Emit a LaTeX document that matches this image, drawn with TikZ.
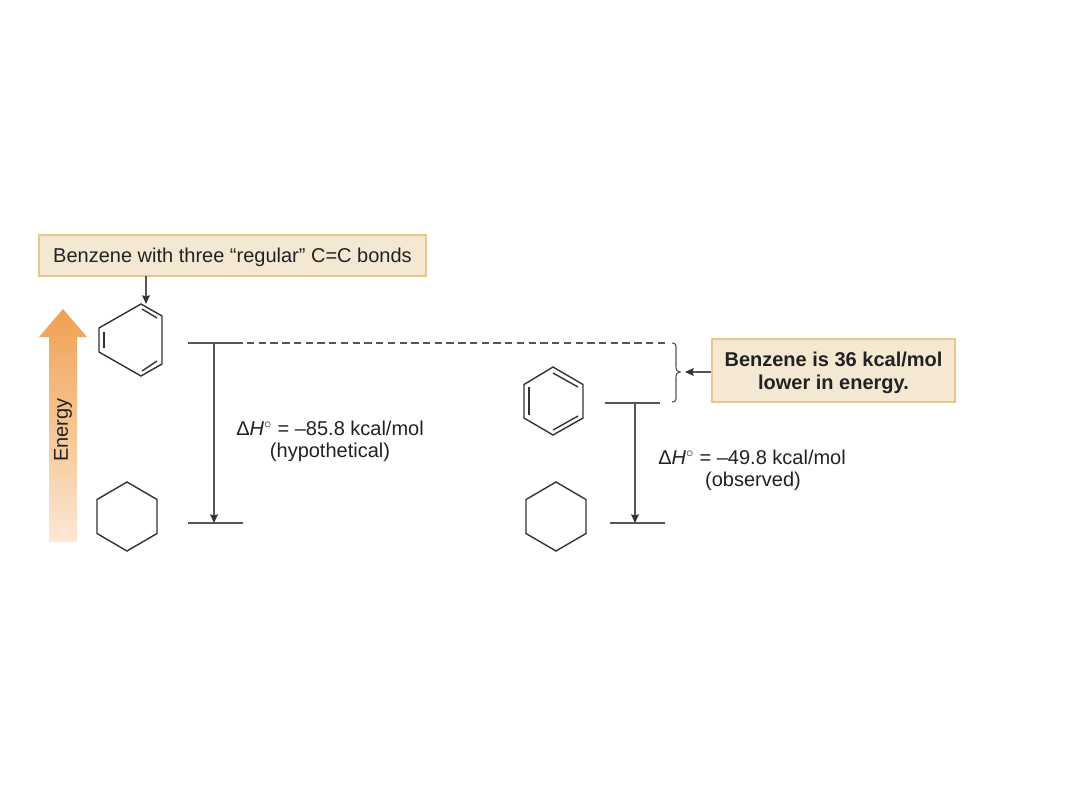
\documentclass[tikz,border=0pt]{standalone}
\usepackage{fontspec}
\setmainfont{Liberation Sans}
\usetikzlibrary{arrows.meta}
\definecolor{boxfill}{HTML}{F5E8D3}
\definecolor{boxedge}{HTML}{E6C88F}
\definecolor{inktext}{HTML}{222222}
\definecolor{inkline}{HTML}{333333}
\definecolor{levelink}{HTML}{555555}
\definecolor{arrowtop}{HTML}{F0A050}
\definecolor{arrowfoot}{HTML}{FDE8D4}
\tikzset{
  x=0.75pt,y=-0.75pt,
  bond/.style={draw=inkline,line width=1.05pt,line join=miter},
  levelline/.style={draw=levelink,line width=0.85pt},
  drop/.style={draw=levelink,line width=0.85pt,-{Stealth[length=6.5pt,width=5.8pt,inset=0.8pt,color=inkline]}},
  callout/.style={draw=boxedge,line width=1.5pt,fill=boxfill,text=inktext,inner sep=0pt,align=center,font=\fontsize{15pt}{17pt}\selectfont},
  txt/.style={text=inktext,inner sep=0pt,align=center,font=\fontsize{15pt}{17pt}\selectfont},
}
\newcommand{\cyclohex}[1]{%
  \draw[bond] (#1,482) -- (#1+30,499.5) -- (#1+30,533.5) -- (#1,551) -- (#1-30,533.5) -- (#1-30,499.5) -- cycle;}
\begin{document}
\begin{tikzpicture}
\useasboundingbox (0,0) rectangle (1080,810);
\fill[white] (0,0) rectangle (1080,810);

% energy arrow
\shade[top color=arrowtop,bottom color=arrowfoot] (63,309) -- (87,337) -- (77,337) -- (77,542) -- (49,542) -- (49,337) -- (39,337) -- cycle;
\node[txt,rotate=90] (energy) at (63,430) {Energy};

% callouts
\node[callout,minimum width=290.25pt,minimum height=30.75pt] (box1) at (232.5,255.5) {\raisebox{-4.9pt}[0pt][0pt]{Benzene with three “regular” C=C bonds}};
\node[callout,minimum width=182.25pt,minimum height=47.25pt,font=\fontsize{15pt}{17pt}\selectfont\bfseries] (box2) at (833.5,370.5) {\rule{0pt}{14.5pt}Benzene is 36 kcal/mol\\lower in energy.};

% structure with three double bonds
\draw[bond] (141,304) -- (162,316) -- (162,364) -- (141,376) -- (99,352) -- (99,328) -- cycle;
\draw[bond] (142,309) -- (157,318);
\draw[bond] (142,371) -- (157,361);
\draw[bond] (104,332) -- (104,348);
\coordinate (dieneTop) at (146,304);
\coordinate (box1Foot) at (146,276);
\draw[drop] (box1Foot) -- (dieneTop);

% benzene
\draw[bond] (553,367) -- (583,384.5) -- (583,418) -- (553,435) -- (524,418) -- (524,384.5) -- cycle;
\draw[bond] (553,373) -- (578,387);
\draw[bond] (553,430) -- (578,416);
\draw[bond] (529,387) -- (529,415);

% cyclohexanes
\cyclohex{127}
\cyclohex{556}

% levels
\coordinate (a1) at (188,343); \coordinate (a2) at (243,343);
\coordinate (b1) at (188,523); \coordinate (b2) at (243,523);
\coordinate (c1) at (605,403); \coordinate (c2) at (660,403);
\coordinate (d1) at (610,523); \coordinate (d2) at (665,523);
\coordinate (dashStart) at (247,343);
\coordinate (dashEnd) at (666,343);
\coordinate (aDrop) at (214,343); \coordinate (bDrop) at (214,523);
\coordinate (cDrop) at (635,403); \coordinate (dDrop) at (635,523);
\draw[levelline] (a1) -- (a2);
\draw[levelline] (b1) -- (b2);
\draw[levelline] (c1) -- (c2);
\draw[levelline] (d1) -- (d2);
\draw[levelline,dash pattern=on 5.5pt off 3.3pt] (dashStart) -- (dashEnd);
\draw[drop] (aDrop) -- (bDrop);
\draw[drop] (cDrop) -- (dDrop);

% brace
\draw[levelline] (672,343) .. controls (676,343) and (676,345) .. (676,349) -- (676,366) .. controls (676,370) and (677,372) .. (680,372) .. controls (677,372) and (676,374) .. (676,378) -- (676,396) .. controls (676,400) and (676,402) .. (672,402);
\coordinate (braceTip) at (685,372);
\draw[drop] (box2.west |- braceTip) -- (braceTip);

% labels
\node[txt,anchor=west] (dh1) at (236,428.5) {Δ\textit{H}$^{\circ}$ = –85.8 kcal/mol};
\node[txt] (hyp) at (330,452) {(hypothetical)};
\node[txt,anchor=west] (dh2) at (658,457.5) {Δ\textit{H}$^{\circ}$ = –49.8 kcal/mol};
\node[txt] (obs) at (753,481) {(observed)};
\end{tikzpicture}
\end{document}
